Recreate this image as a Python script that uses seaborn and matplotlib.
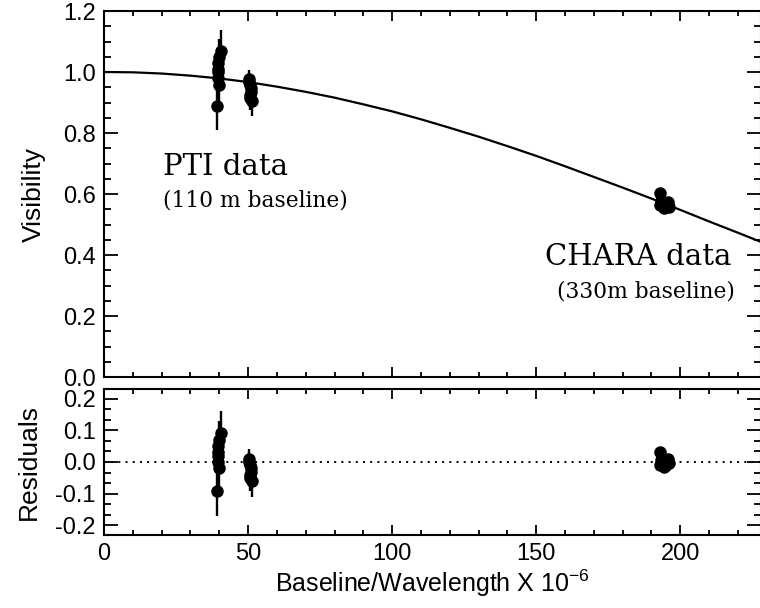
import numpy as np
import pandas as pd
import matplotlib
matplotlib.use("Agg")
import matplotlib.pyplot as plt
import seaborn as sns
from matplotlib.ticker import MultipleLocator, FormatStrFormatter

# ---- model curve ----
model_x = [0, 10, 20, 30, 40, 50, 60, 70, 80, 90, 100, 110, 120, 130, 140,
           150, 160, 170, 180, 190, 200, 210, 220, 228]
model_v = [1.000, 0.999, 0.995, 0.988, 0.979, 0.967, 0.952, 0.935, 0.916,
           0.894, 0.871, 0.845, 0.817, 0.788, 0.757, 0.725, 0.691, 0.656,
           0.621, 0.585, 0.548, 0.510, 0.473, 0.443]

# ---- PTI data ----
pti_x = [39.2, 39.4, 39.6, 39.5, 39.8, 40.0, 39.7, 40.6,
         50.3, 50.5, 50.7, 50.9, 51.1, 50.6, 50.8, 51.2]
pti_v = [0.889, 0.979, 0.999, 1.029, 1.049, 0.959, 1.009, 1.069,
         0.976, 0.966, 0.956, 0.946, 0.936, 0.926, 0.916, 0.906]
pti_err = [0.08, 0.05, 0.06, 0.05, 0.06, 0.06, 0.05, 0.07,
           0.03, 0.03, 0.03, 0.04, 0.04, 0.04, 0.04, 0.05]
pti_res = [-0.09, 0.00, 0.02, 0.05, 0.07, -0.02, 0.03, 0.09,
           0.01, 0.00, -0.01, -0.02, -0.03, -0.04, -0.05, -0.06]

# ---- CHARA data ----
chara_x = [192.8, 193.2, 193.5, 194.0, 194.6, 195.3, 195.8, 196.2, 194.2, 193.0]
chara_v = [0.604, 0.578, 0.567, 0.560, 0.556, 0.560, 0.573, 0.559, 0.554, 0.565]
chara_err = [0.010, 0.010, 0.010, 0.010, 0.010, 0.010, 0.010, 0.010, 0.010, 0.010]
chara_res = [0.030, 0.005, -0.005, -0.010, -0.012, -0.005, 0.010, -0.003, -0.015, -0.008]

x_ticks = [0, 50, 100, 150, 200]

data = pd.DataFrame({
    "x": pti_x + chara_x,
    "v": pti_v + chara_v,
    "err": pti_err + chara_err,
    "res": pti_res + chara_res,
})
model = pd.DataFrame({"x": model_x, "v": model_v})

sns.set_style("ticks")
plt.rcParams["font.family"] = ["Liberation Sans", "DejaVu Sans"]
plt.rcParams["mathtext.default"] = "regular"
plt.rcParams["text.color"] = "black"
plt.rcParams["axes.labelcolor"] = "black"

fig = plt.figure(figsize=(7.6, 6.08), dpi=100)
ax1 = fig.add_axes([0.1368, 0.3799, 0.8645, 0.602])
ax2 = fig.add_axes([0.1368, 0.1201, 0.8645, 0.2401])

sns.lineplot(data=model, x="x", y="v", ax=ax1, color="black", lw=1.6)
ax1.errorbar(data["x"], data["v"], yerr=data["err"], fmt="o", color="black",
             ms=8, elinewidth=1.7, capsize=0)

ax2.axhline(0, color="black", lw=1.4, ls=(0, (1, 2.7)))
ax2.errorbar(data["x"], data["res"], yerr=data["err"], fmt="o", color="black",
             ms=8, elinewidth=1.7, capsize=0)

for ax in (ax1, ax2):
    ax.set_xlim(0, 228)
    ax.set_xticks(x_ticks)
    ax.xaxis.set_minor_locator(MultipleLocator(10))
    ax.tick_params(which="both", direction="in", top=True, right=True,
                   width=1.3, labelsize=17, pad=6, colors="black")
    ax.tick_params(axis="x", which="major", length=7.5)
    ax.tick_params(axis="x", which="minor", length=3.8)
    ax.tick_params(axis="y", which="major", length=10)
    ax.tick_params(axis="y", which="minor", length=5)
    for s in ax.spines.values():
        s.set_linewidth(1.5)
        s.set_color("black")

ax1.set_ylim(0, 1.2)
ax1.yaxis.set_major_locator(MultipleLocator(0.2))
ax1.yaxis.set_minor_locator(MultipleLocator(0.05))
ax1.yaxis.set_major_formatter(FormatStrFormatter("%.1f"))
ax1.tick_params(axis="x", labelbottom=False)
ax1.set_xlabel("")
ax1.set_ylabel("Visibility", fontsize=19, labelpad=12, color="black")

ax2.set_ylim(-0.23, 0.23)
ax2.yaxis.set_major_locator(MultipleLocator(0.1))
ax2.yaxis.set_minor_locator(MultipleLocator(0.1 / 3))
ax2.yaxis.set_major_formatter(FormatStrFormatter("%.1f"))
ax2.set_ylabel("Residuals", fontsize=19, labelpad=10, color="black")
ax2.set_xlabel("Baseline/Wavelength X 10$^{-6}$", fontsize=18, labelpad=2, color="black")

serif = ["DejaVu Serif"]
ax1.text(20.5, 0.689, "PTI data", fontsize=21, family=serif, va="center", ha="left", color="black")
ax1.text(20.5, 0.580, "(110 m baseline)", fontsize=15.7, family=serif, va="center", ha="left", color="black")
ax1.text(153.1, 0.393, "CHARA data", fontsize=21, family=serif, va="center", ha="left", color="black")
ax1.text(157.3, 0.282, "(330m baseline)", fontsize=15.7, family=serif, va="center", ha="left", color="black")

fig.savefig("out.png", dpi=100)
